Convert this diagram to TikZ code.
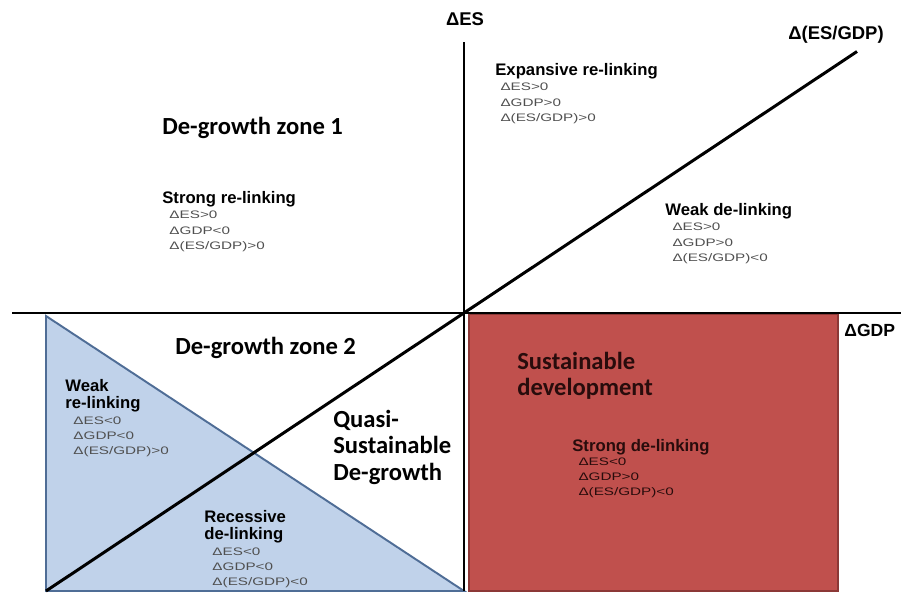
\documentclass[tikz,border=0pt]{standalone}
\usepackage{fontspec}
\setmainfont{Liberation Sans}
\newfontfamily\zonefont{Carlito}
\usetikzlibrary{positioning}

\definecolor{sdred}{RGB}{192,80,77}
\definecolor{sdredline}{RGB}{140,56,54}
\definecolor{recblue}{RGB}{192,210,234}
\definecolor{recblueline}{RGB}{79,109,150}
\definecolor{condgray}{RGB}{80,80,80}
\definecolor{darktext}{RGB}{40,12,12}

\tikzset{
  zone/.style={inner sep=0pt,anchor=north west,align=left,font=\zonefont\bfseries\fontsize{14}{15}\selectfont},
  linking/.style={inner sep=0pt,anchor=north west,align=left,font=\bfseries\fontsize{9.5}{9.8}\selectfont},
  cond/.style={inner sep=0pt,align=left,xscale=1.4,text=condgray,font=\fontsize{6.2}{8.7}\selectfont},
  axislabel/.style={inner sep=0pt,font=\bfseries\fontsize{10.5}{12}\selectfont}
}

\begin{document}
\begin{tikzpicture}
\useasboundingbox (0,0) rectangle (18.02,11.88);
\coordinate (O) at (9.28,5.62);
\coordinate (gdpstart) at (0.24,5.62);
\coordinate (gdpend) at (18.02,5.62);
\coordinate (esend) at (9.28,11.04);
\coordinate (esstart) at (9.28,0.06);
\coordinate (ratiostart) at (0.92,0.06);
\coordinate (ratioend) at (17.14,10.85);
% shaded regions
\draw[recblueline,line width=1.1pt,fill=recblue] (0.92,5.56) -- (ratiostart) -- (esstart) -- cycle;
\draw[sdredline,line width=1.1pt,fill=sdred] (9.38,5.60) rectangle (16.76,0.06);
% axes
\draw[line width=0.8pt] (gdpstart) -- (gdpend);
\draw[line width=0.8pt] (esstart) -- (esend);
\draw[line width=1.7pt] (ratiostart) -- (ratioend);
\node[axislabel,anchor=north] (eslab) at (9.30,11.64) {ΔES};
\node[axislabel,anchor=north west] (ratiolab) at (15.76,11.36) {Δ(ES/GDP)};
\node[axislabel,anchor=north west,font=\bfseries\fontsize{10}{12}\selectfont] (gdplab) at (16.88,5.40) {ΔGDP};
% zones
\node[zone] (zone1) at (3.24,9.54) {De-growth zone 1};
\node[zone] (zone2) at (3.50,5.14) {De-growth zone 2};
\node[zone] (quasi) at (6.66,3.68) {Quasi-\\Sustainable\\De-growth};
\node[zone,text=darktext] (sustdev) at (10.34,4.84) {Sustainable\\development};
% linking types
\node[linking] (strongre) at (3.24,8.06) {Strong re-linking};
\node[cond,below right=2pt and 0.14cm of strongre.south west] (strongrec) {ΔES>0\\ΔGDP<0\\Δ(ES/GDP)>0};
\node[linking] (expre) at (9.90,10.62) {Expansive re-linking};
\node[cond,below right=2pt and 0.1cm of expre.south west] (exprec) {ΔES>0\\ΔGDP>0\\Δ(ES/GDP)>0};
\node[linking] (weakde) at (13.30,7.82) {Weak de-linking};
\node[cond,below right=2pt and 0.14cm of weakde.south west] (weakdec) {ΔES>0\\ΔGDP>0\\Δ(ES/GDP)<0};
\node[linking] (weakre) at (1.30,4.30) {Weak\\re-linking};
\node[cond,below right=2pt and 0.16cm of weakre.south west] (weakrec) {ΔES<0\\ΔGDP<0\\Δ(ES/GDP)>0};
\node[linking] (recess) at (4.08,1.68) {Recessive\\de-linking};
\node[cond,below right=2pt and 0.16cm of recess.south west] (recessc) {ΔES<0\\ΔGDP<0\\Δ(ES/GDP)<0};
\node[linking,text=darktext] (strongde) at (11.44,3.10) {Strong de-linking};
\node[cond,text=darktext,below right=1pt and 0.12cm of strongde.south west] (strongdec) {ΔES<0\\ΔGDP>0\\Δ(ES/GDP)<0};
\end{tikzpicture}
\end{document}
